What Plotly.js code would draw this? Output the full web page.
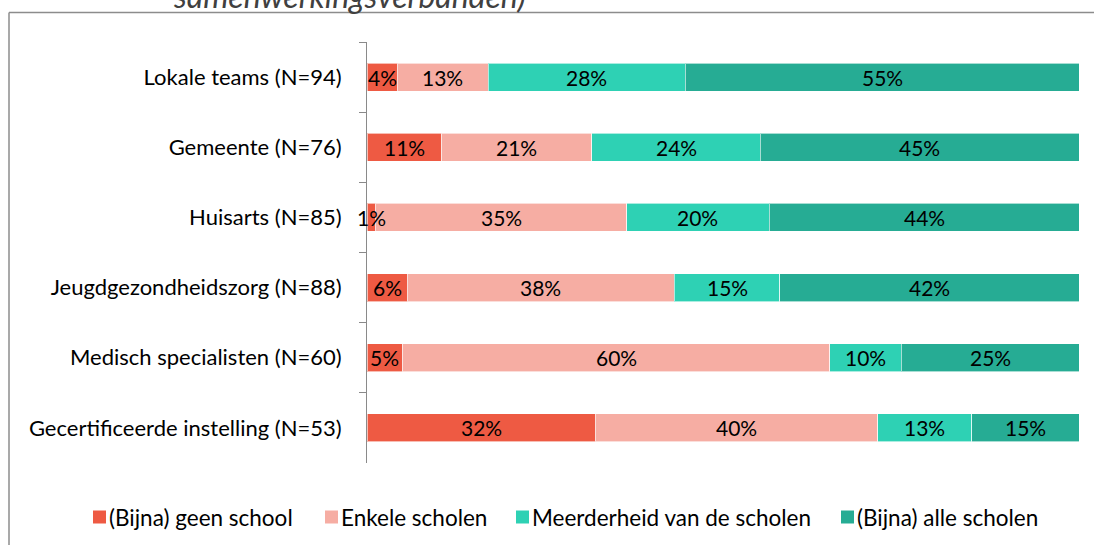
<!DOCTYPE html>
<html>
<head>
<meta charset="utf-8">
<script src="https://cdn.plot.ly/plotly-3.0.1.min.js"></script>
<style>
html,body{margin:0;padding:0;background:#fff;}
#chart{width:1094px;height:545px;}
</style>
</head>
<body>
<div id="chart"></div>
<script>
// Categories (top to bottom)
const categories = [
  "Lokale teams (N=94)",
  "Gemeente (N=76)",
  "Huisarts (N=85)",
  "Jeugdgezondheidszorg (N=88)",
  "Medisch specialisten (N=60)",
  "Gecertificeerde instelling (N=53)"
];
const seriesNames = ["(Bijna) geen school", "Enkele scholen", "Meerderheid van de scholen", "(Bijna) alle scholen"];
// Percentages per series (same order as categories)
const geenSchool   = [4.26, 10.53, 1.18, 5.68, 5.00, 32.08];
const enkele       = [12.77, 21.05, 35.29, 37.50, 60.00, 39.62];
const meerderheid  = [27.66, 23.68, 20.00, 14.77, 10.00, 13.21];
const alle         = [55.32, 44.74, 43.53, 42.05, 25.00, 15.09];
const titleText = "samenwerkingsverbanden)";

const colors = ["#EE5A43", "#F6ADA3", "#2ED1B4", "#26AC94"];
const seriesValues = [geenSchool, enkele, meerderheid, alle];
const FONT = "Lato, 'Open Sans', sans-serif";

const traces = seriesValues.map((vals, i) => ({
  type: "bar",
  orientation: "h",
  name: seriesNames[i],
  y: categories,
  x: vals,
  marker: {color: colors[i], line: {color: "rgba(255,255,255,0.6)", width: 1}},
  hoverinfo: "skip",
  showlegend: false
}));

// Data labels placed at the middle of each stacked segment (data coordinates)
const annotations = [];
const cum = categories.map(() => 0);
seriesValues.forEach((vals) => {
  vals.forEach((v, j) => {
    annotations.push({
      x: cum[j] + v / 2, y: categories[j], xref: "x", yref: "y",
      text: Math.round(v) + "%", showarrow: false,
      xanchor: "center", yanchor: "middle",
      font: {family: FONT, size: 21, color: "#000000"}
    });
    cum[j] += v;
  });
});

// Title (partially cut at the top, as in the reference)
annotations.push({
  text: titleText,
  xref: "paper", yref: "paper",
  x: -0.024, y: 1.0603,
  xanchor: "center", yanchor: "bottom",
  showarrow: false,
  font: {family: FONT, size: 32, color: "#404040", style: "italic"}
});

// Legend drawn in one row below the plot
const PW = 712, PH = 421, PL = 367, PT = 42;
const px = (xp) => (xp - PL) / PW;
const py = (yp) => 1 - (yp - PT) / PH;
const legendX = [93, 325, 516, 841];
const legendY = 517;
const shapes = [
  {type: "line", xref: "paper", yref: "paper", x0: px(9), x1: 1.2, y0: py(12.5), y1: py(12.5),
   line: {color: "#8c8c8c", width: 1.5}, layer: "below"},
  {type: "line", xref: "paper", yref: "paper", x0: px(9), x1: px(9), y0: py(12.5), y1: -0.3,
   line: {color: "#8c8c8c", width: 1.5}, layer: "below"}
];
seriesNames.forEach((name, i) => {
  shapes.push({
    type: "rect", xref: "paper", yref: "paper",
    x0: px(legendX[i]), x1: px(legendX[i] + 13),
    y0: py(legendY - 6.5), y1: py(legendY + 6.5),
    fillcolor: colors[i], line: {width: 0}
  });
  annotations.push({
    text: name, xref: "paper", yref: "paper",
    x: px(legendX[i] + 14), y: py(legendY),
    xanchor: "left", yanchor: "middle", showarrow: false,
    font: {family: FONT, size: 22.5, color: "#000000"}
  });
});

const layout = {
  width: 1094,
  height: 545,
  margin: {l: PL, r: 15, t: PT, b: 82, pad: 0, autoexpand: false},
  paper_bgcolor: "#ffffff",
  plot_bgcolor: "#ffffff",
  barmode: "stack",
  bargap: 0.6,
  font: {family: FONT, size: 22, color: "#000000"},
  xaxis: {range: [0, 100], visible: false, fixedrange: true},
  yaxis: {
    autorange: "reversed",
    showline: true,
    linecolor: "#8a8a8a",
    linewidth: 1,
    ticks: "outside",
    ticklen: 7,
    tickcolor: "#8a8a8a",
    tickson: "boundaries",
    ticklabelstandoff: 20,
    showgrid: false,
    zeroline: false,
    tickfont: {family: FONT, size: 22, color: "#000000"},
    fixedrange: true
  },
  showlegend: false,
  shapes: shapes,
  annotations: annotations
};

Plotly.newPlot("chart", traces, layout, {staticPlot: true, displayModeBar: false});
</script>
</body>
</html>
